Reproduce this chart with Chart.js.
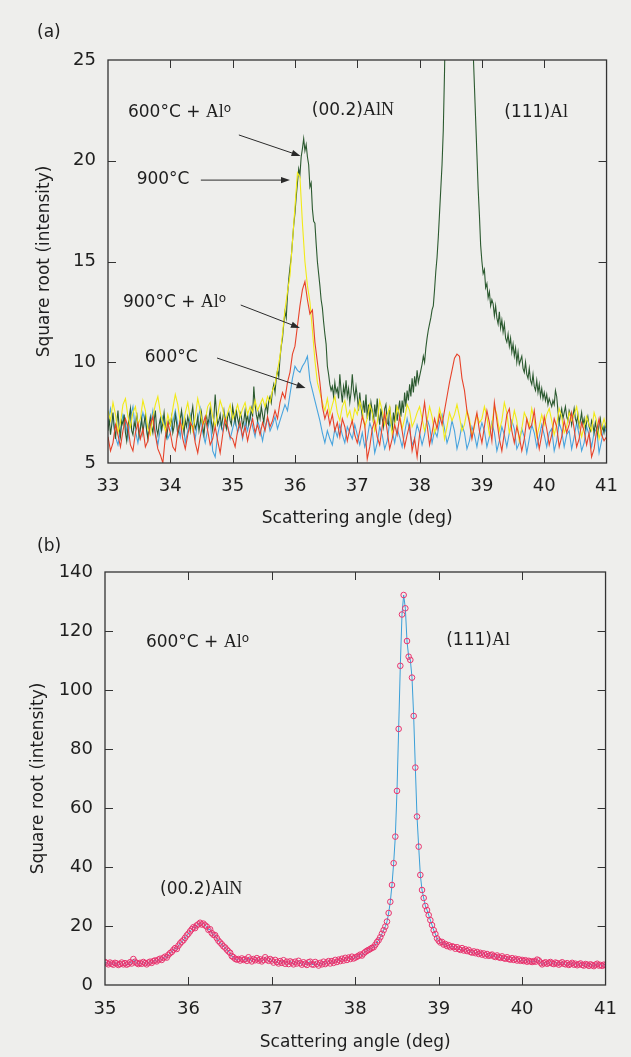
<!DOCTYPE html>
<html><head><meta charset="utf-8">
<script src="https://cdn.jsdelivr.net/npm/chart.js@4.4.1/dist/chart.umd.min.js"></script>
<style>
html,body{margin:0;padding:0;background:#eeeeec;}
body{width:631px;height:1057px;position:relative;overflow:hidden;}
canvas{position:absolute;left:0;}
#ca{top:0}
#cb{top:530px}
</style></head><body>
<canvas id="ca" width="631" height="535"></canvas>
<canvas id="cb" width="631" height="527"></canvas>
<script>
// ---------- data ----------
// scan grid (deg)
const scanStart = 33;
const fineStep = 0.02;   // step of the 600°C + Al° scan
const coarseStep = 0.04; // step of the other three scans
const zoomStart = 35;    // panel (b) starts at 35°

// 600°C + Al°  (sqrt intensity), 33.00 … 41.00 every 0.02°
const sqrt600Al = [
  // 33.00–33.98
  6.6, 7.2, 6.4, 6.9, 7.5, 6.8, 6.2, 7.0, 7.6, 6.7,
  6.3, 7.1, 6.9, 7.4, 6.5, 6.1, 6.8, 7.3, 7.7, 6.6,
  6.4, 7.0, 6.8, 7.5, 6.9, 6.3, 6.7, 7.2, 6.5, 7.0,
  7.4, 6.6, 6.2, 6.9, 7.3, 6.8, 6.5, 7.1, 7.6, 6.7,
  6.4, 6.9, 7.2, 6.6, 7.0, 7.5, 6.8, 6.3, 6.7, 7.1,
  // 34.00–34.98
  6.9, 7.3, 6.5, 6.8, 7.4, 7.0, 6.4, 6.7, 7.2, 7.6,
  6.9, 6.5, 7.1, 6.8, 7.3, 7.0, 6.6, 7.4, 7.8, 7.1,
  6.7, 6.9, 7.3, 6.6, 7.0, 7.5, 6.8, 6.4, 7.1, 7.4,
  6.9, 7.2, 7.7, 7.0, 6.6, 7.3, 8.4, 7.5, 6.9, 7.1,
  7.4, 6.8, 7.2, 7.6, 7.0, 6.7, 7.3, 7.5, 7.1, 6.9,
  // 35.00–35.98
  7.8, 7.4, 7.0, 7.6, 7.2, 6.9, 7.5, 7.3, 6.8, 7.1,
  7.6, 7.0, 7.4, 6.9, 7.2, 7.7, 7.3, 8.8, 7.9, 7.4,
  7.1, 7.5, 7.2, 7.8, 7.4, 7.0, 7.6, 7.9, 7.5, 8.1,
  8.3, 8.0, 8.6, 8.9, 8.5, 9.2, 9.6, 9.3, 10.2, 10.8,
  11.2, 11.9, 12.5, 12.2, 13.3, 14.1, 14.7, 15.2, 16.0, 16.8,
  // 36.00–36.98
  17.4, 18.2, 18.9, 19.6, 19.3, 20.2, 20.6, 21.1, 20.5, 20.8,
  20.2, 19.8, 18.7, 18.9, 17.6, 17.0, 16.9, 15.9, 15.0, 14.4,
  13.8, 13.1, 12.7, 12.0, 11.4, 10.9, 9.8, 9.4, 8.9, 8.6,
  8.8, 8.3, 9.0, 8.5, 8.7, 8.2, 9.4, 8.6, 8.0, 8.8,
  8.4, 9.1, 8.3, 8.7, 8.0, 8.5, 9.4, 8.6, 8.2, 8.8,
  // 37.00–37.98
  8.3, 7.6, 8.5, 7.8, 7.3, 8.1, 7.5, 8.4, 7.2, 7.9,
  7.1, 8.0, 7.6, 7.0, 7.9, 7.3, 8.2, 7.4, 6.9, 7.7,
  7.2, 6.8, 7.7, 7.9, 7.0, 6.9, 7.8, 7.2, 6.6, 7.5,
  7.0, 7.9, 7.1, 7.6, 8.1, 7.3, 8.1, 7.5, 8.5, 7.8,
  8.6, 8.1, 8.9, 8.3, 9.2, 8.5, 9.3, 8.8, 9.6, 9.0,
  // 38.00–38.98
  9.3, 9.6, 9.9, 10.3, 10.0, 10.7, 11.2, 11.6, 11.9, 12.2,
  12.6, 12.8, 13.6, 14.5, 15.2, 16.2, 17.4, 18.6, 19.8, 21.5,
  24.4, 28.2, 33.9, 41.3, 50.3, 65.8, 86.8, 108.2, 125.6, 132.2,
  127.7, 116.6, 111.3, 110.2, 104.2, 91.2, 73.7, 57.1, 46.9, 37.3,
  32.2, 29.5, 26.8, 25.4, 23.7, 22.0, 20.3, 18.6, 17.3, 15.8,
  // 39.00–39.98
  15.0, 14.4, 14.6, 13.7, 13.9, 13.2, 13.5, 12.8, 13.1, 12.9,
  12.3, 12.8, 12.2, 11.9, 12.5, 11.7, 12.1, 11.5, 11.9, 11.2,
  11.0, 11.4, 10.8, 11.2, 10.5, 10.9, 10.3, 10.7, 10.0, 10.5,
  9.9, 10.1, 10.3, 9.7, 9.5, 10.0, 9.4, 9.2, 9.7, 9.1,
  8.9, 9.4, 8.8, 8.6, 9.1, 8.5, 8.9, 8.3, 8.7, 8.2,
  // 40.00–41.00
  8.5, 8.1, 8.4, 7.9, 8.2, 8.0, 7.8, 8.1, 7.9, 8.6,
  8.3, 7.6, 7.0, 7.4, 7.7, 7.2, 7.5, 7.8, 7.3, 7.1,
  7.6, 7.4, 6.9, 7.3, 7.7, 7.2, 7.0, 7.4, 6.8, 7.1,
  7.5, 6.9, 7.2, 6.7, 7.0, 7.3, 6.8, 6.6, 7.1, 6.9,
  6.5, 7.0, 6.7, 6.4, 6.9, 7.2, 6.6, 6.8, 6.5, 6.9,
  6.7
];

// 900°C  (sqrt intensity), 33.00 … 41.00 every 0.04°
const sqrt900 = [
  7.6, 7.1, 8.0, 7.4, 6.5, 7.0, 7.9, 8.2, 7.3, 6.8, 7.5, 7.8, 6.9, 7.2, 8.1, 7.6, 6.7, 6.4, 7.3, 7.9, 8.3, 7.5, 7.0, 6.6, 7.4,
  6.9, 7.7, 8.4, 7.9, 7.0, 6.7, 7.5, 8.0, 7.2, 6.6, 7.3, 8.2, 7.6, 6.9, 7.1, 7.8, 8.0, 7.3, 6.8, 7.4, 8.1, 7.7, 7.0, 7.5, 7.9,
  7.2, 7.5, 7.9, 7.3, 7.7, 8.0, 7.4, 7.8, 7.5, 8.1, 7.6, 7.9, 8.2, 7.8, 8.3, 8.0, 8.6, 8.9, 9.6, 10.3, 11.4, 12.6, 13.5, 14.3, 16.0,
  17.7, 19.4, 19.2, 16.9, 15.0, 13.8, 13.0, 11.6, 10.1, 9.0, 8.5, 8.0, 7.6, 8.2, 7.4, 7.9, 8.3, 7.5, 7.1, 7.8, 8.1, 7.3, 7.6, 7.0, 7.7,
  7.4, 8.1, 7.6, 6.8, 7.2, 7.9, 7.5, 6.6, 7.0, 8.1, 7.6, 6.9, 7.4, 7.8, 6.4, 6.9, 7.8, 7.4, 6.7, 7.2, 7.9, 7.6, 6.8, 7.1, 7.5,
  7.8, 7.2, 6.6, 7.1, 7.8, 7.3, 6.5, 6.9, 7.7, 7.2, 6.2, 6.8, 7.5, 7.1, 7.4, 7.9, 7.3, 6.6, 6.9, 7.6, 7.2, 6.3, 6.8, 7.4, 7.0,
  7.2, 7.8, 7.3, 6.4, 6.9, 7.8, 7.4, 6.6, 7.1, 8.0, 7.5, 6.5, 6.9, 7.6, 7.1, 6.1, 6.7, 7.5, 7.2, 6.8, 7.7, 7.1, 6.3, 6.8, 7.4,
  6.9, 7.4, 7.7, 7.1, 6.4, 6.9, 7.7, 7.3, 6.5, 6.8, 7.5, 7.1, 7.4, 7.8, 7.0, 6.3, 6.8, 7.3, 6.9, 6.6, 7.5, 7.1, 6.2, 6.7, 7.2,
  6.7
];

// 900°C + Al°  (sqrt intensity), 33.00 … 41.00 every 0.04°
const sqrt900Al = [
  6.3, 5.6, 6.0, 6.9, 6.4, 5.8, 6.6, 7.2, 6.8, 5.9, 5.6, 6.5, 7.0, 6.2, 6.7, 5.8, 6.1, 6.9, 7.3, 6.4, 5.7, 5.4, 5.0, 6.3, 7.0,
  6.5, 5.8, 5.6, 6.6, 7.1, 6.2, 5.7, 6.4, 7.0, 6.8, 6.0, 5.5, 6.3, 6.9, 7.3, 6.6, 5.9, 6.2, 6.8, 6.1, 5.5, 6.4, 7.2, 6.8, 6.3,
  6.2, 5.8, 6.6, 7.0, 6.3, 6.8, 6.1, 6.7, 7.2, 6.5, 6.9, 6.4, 7.0, 6.6, 7.3, 6.8, 7.1, 7.6, 7.2, 8.0, 8.5, 8.2, 9.0, 9.5, 10.4,
  10.8, 11.8, 12.8, 13.6, 14.0, 13.1, 12.4, 12.6, 11.0, 10.0, 9.0, 7.8, 7.2, 7.6, 6.9, 7.4, 6.6, 7.0, 6.3, 7.2, 6.8, 6.1, 6.7, 7.1, 6.4,
  6.0, 6.6, 7.3, 6.9, 5.2, 5.8, 6.7, 7.1, 6.3, 5.9, 6.8, 7.5, 6.6, 5.7, 6.2, 6.9, 6.4, 7.3, 6.6, 5.8, 6.4, 6.9, 5.6, 6.2, 5.3,
  6.4, 7.1, 8.0, 6.9, 5.9, 6.5, 7.2, 6.7, 7.4, 6.9, 7.6, 8.3, 9.0, 9.6, 10.2, 10.4, 10.3, 9.2, 8.6, 7.6, 7.0, 6.2, 6.9, 7.5, 6.6,
  6.0, 6.8, 7.6, 7.0, 6.1, 8.0, 7.1, 6.2, 5.6, 6.5, 7.4, 7.7, 6.6, 6.0, 6.8, 6.3, 5.6, 6.2, 7.2, 6.7, 6.9, 7.6, 6.5, 5.7, 6.4,
  7.3, 6.7, 5.9, 6.4, 7.2, 6.8, 5.8, 6.3, 7.1, 6.5, 6.9, 7.5, 6.7, 5.8, 6.2, 7.0, 6.6, 5.9, 6.5, 5.3, 5.7, 6.6, 7.2, 6.4, 6.1,
  6.3
];

// 600°C  (sqrt intensity), 33.00 … 41.00 every 0.04°
const sqrt600 = [
  6.9, 7.7, 7.1, 6.3, 5.9, 6.6, 7.4, 7.0, 6.2, 7.3, 7.8, 6.6, 6.0, 6.8, 7.5, 7.0, 6.3, 6.9, 7.6, 6.5, 5.9, 6.7, 7.3, 6.9, 6.2,
  6.5, 7.0, 7.6, 6.9, 6.3, 7.3, 6.0, 6.6, 7.4, 6.9, 6.2, 7.1, 7.7, 6.5, 6.0, 6.7, 7.2, 5.6, 5.3, 6.4, 7.0, 6.6, 7.3, 6.8, 6.2,
  6.7, 7.2, 6.5, 6.9, 6.2, 7.0, 6.6, 7.4, 6.8, 6.3, 7.1, 6.7, 6.1, 6.8, 7.2, 6.6, 6.9, 7.3, 6.7, 7.1, 7.5, 7.9, 7.6, 8.4, 9.2,
  9.8, 9.6, 9.5, 9.8, 10.0, 10.3, 9.1, 8.6, 8.1, 7.6, 7.1, 6.5, 6.0, 6.6, 6.2, 5.9, 6.7, 6.3, 6.9, 6.4, 6.0, 6.8, 6.5, 6.2, 6.9,
  6.4, 5.9, 6.5, 5.8, 6.2, 7.0, 6.6, 5.5, 6.0, 6.8, 6.4, 5.7, 6.1, 7.0, 6.6, 6.0, 6.7, 6.3, 5.8, 6.5, 7.2, 6.6, 5.9, 6.2, 6.9,
  6.5, 5.9, 6.4, 7.2, 6.8, 6.0, 6.6, 6.3, 7.0, 7.4, 6.7, 6.0, 6.4, 7.1, 6.6, 5.7, 6.2, 6.9, 6.5, 5.7, 6.1, 6.8, 6.4, 5.8, 6.5,
  7.0, 6.6, 5.8, 6.3, 7.0, 6.5, 5.6, 6.1, 6.8, 6.4, 5.8, 6.5, 7.1, 6.7, 5.7, 6.0, 6.7, 6.3, 5.5, 6.2, 6.9, 6.5, 5.8, 6.3, 6.9,
  6.4, 5.8, 6.5, 6.7, 5.6, 6.1, 7.0, 6.6, 5.8, 6.4, 6.6, 5.7, 6.3, 7.0, 6.4, 5.6, 6.0, 6.8, 6.4, 5.8, 6.5, 6.7, 5.5, 6.1, 6.8,
  6.5
];

// axes
const xRangeA = [33, 41], yRangeA = [5, 25], yStepA = 5;
const xRangeB = [35, 41], yRangeB = [0, 140], yStepB = 20;

// labels
const seriesNames = ['900°C + Al°', '600°C + Al°', '900°C', '600°C'];
const xTitle = 'Scattering angle (deg)';
const yTitle = 'Square root (intensity)';

// annotations (data coordinates)
const notesA = [
  {x: 33.32, y: 22.17, parts: [['600°C + ', 's'], ['Al', 'r'], ['o', 'sup']]},
  {x: 33.46, y: 18.85, parts: [['900°C', 's']]},
  {x: 33.24, y: 12.74, parts: [['900°C + ', 's'], ['Al', 'r'], ['o', 'sup']]},
  {x: 33.59, y: 10.01, parts: [['600°C', 's']]},
  {x: 36.27, y: 22.27, parts: [['(00.2)', 's'], ['AlN', 'r']]},
  {x: 39.36, y: 22.17, parts: [['(111)', 's'], ['Al', 'r']]}
];
const arrowsA = [
  {from: [35.10, 21.28], to: [36.09, 20.24]},
  {from: [34.49, 19.04], to: [35.92, 19.04]},
  {from: [35.13, 12.84], to: [36.08, 11.70]},
  {from: [34.75, 10.21], to: [36.17, 8.72]}
];
const notesB = [
  {x: 35.49, y: 114.6, parts: [['600°C + ', 's'], ['Al', 'r'], ['o', 'sup']]},
  {x: 39.09, y: 115.3, parts: [['(111)', 's'], ['Al', 'r']]},
  {x: 35.66, y: 30.8, parts: [['(00.2)', 's'], ['AlN', 'r']]}
];

// ---------- helpers ----------
function toPoints(values, start, step) {
  return values.map((v, i) => ({x: Math.round((start + i * step) * 100) / 100, y: v}));
}
const SANS = '"DejaVu Sans", sans-serif';
const SERIF = '"Liberation Serif", "DejaVu Serif", serif';
const INK = '#1e1e1e';
const FRAME = '#333333';
const fontOf = {s: '17px ' + SANS, r: '18px ' + SERIF, sup: '12px ' + SANS};

function drawRich(ctx, x, y, parts) {
  let cx = x;
  for (const [t, k] of parts) {
    ctx.font = fontOf[k];
    ctx.fillText(t, cx, k === 'sup' ? y - 5 : y);
    cx += ctx.measureText(t).width;
  }
}

function makeAnnotations(notes, arrows, panelLabel, panelY) {
  return {
    id: 'notes',
    afterDraw(chart) {
      const {ctx, scales: {x, y}} = chart;
      ctx.save();
      ctx.fillStyle = INK;
      ctx.textBaseline = 'alphabetic';
      ctx.textAlign = 'left';
      for (const n of notes) drawRich(ctx, x.getPixelForValue(n.x), y.getPixelForValue(n.y), n.parts);
      ctx.font = '17px ' + SANS;
      ctx.textBaseline = 'middle';
      ctx.fillText(panelLabel, 37, panelY);
      ctx.strokeStyle = '#2a2a2a';
      ctx.lineWidth = 1;
      for (const a of arrows) {
        const x1 = x.getPixelForValue(a.from[0]), y1 = y.getPixelForValue(a.from[1]);
        const x2 = x.getPixelForValue(a.to[0]), y2 = y.getPixelForValue(a.to[1]);
        const ang = Math.atan2(y2 - y1, x2 - x1);
        const L = 9, W = 3.2;
        ctx.beginPath();
        ctx.moveTo(x1, y1);
        ctx.lineTo(x2 - Math.cos(ang) * L * 0.8, y2 - Math.sin(ang) * L * 0.8);
        ctx.stroke();
        ctx.beginPath();
        ctx.moveTo(x2, y2);
        ctx.lineTo(x2 - Math.cos(ang) * L + Math.sin(ang) * W, y2 - Math.sin(ang) * L - Math.cos(ang) * W);
        ctx.lineTo(x2 - Math.cos(ang) * L - Math.sin(ang) * W, y2 - Math.sin(ang) * L + Math.cos(ang) * W);
        ctx.closePath();
        ctx.fillStyle = '#2a2a2a';
        ctx.fill();
      }
      ctx.restore();
    }
  };
}

const frameTicks = {
  id: 'frameTicks',
  afterDatasetsDraw(chart) {
    const {ctx, chartArea: a, scales: {x, y}} = chart;
    const L = 8;
    ctx.save();
    ctx.strokeStyle = FRAME;
    ctx.lineWidth = 1;
    ctx.beginPath();
    for (const t of x.ticks) {
      const px = Math.round(x.getPixelForValue(t.value)) + 0.5;
      if (px <= a.left + 2 || px >= a.right - 2) continue;
      ctx.moveTo(px, a.bottom); ctx.lineTo(px, a.bottom - L);
      ctx.moveTo(px, a.top); ctx.lineTo(px, a.top + L);
    }
    for (const t of y.ticks) {
      const py = Math.round(y.getPixelForValue(t.value)) + 0.5;
      if (py <= a.top + 2 || py >= a.bottom - 2) continue;
      ctx.moveTo(a.left, py); ctx.lineTo(a.left + L, py);
      ctx.moveTo(a.right, py); ctx.lineTo(a.right - L, py);
    }
    ctx.stroke();
    ctx.lineWidth = 1.3;
    ctx.strokeRect(a.left, a.top, a.right - a.left, a.bottom - a.top);
    ctx.restore();
  }
};

function axes(xr, yr, ystep, sizes) {
  return {
    x: {
      type: 'linear', min: xr[0], max: xr[1],
      afterFit(s) { s.height = sizes.xh; },
      grid: {display: false, drawTicks: false}, border: {display: false},
      ticks: {stepSize: 1, autoSkip: false, maxRotation: 0, padding: sizes.xpad,
        color: INK, font: {family: SANS, size: 18}},
      title: {display: true, text: xTitle, color: INK, font: {family: SANS, size: 17},
        padding: {top: 0, bottom: sizes.xtp}}
    },
    y: {
      type: 'linear', min: yr[0], max: yr[1],
      afterFit(s) { s.width = sizes.yw; },
      grid: {display: false, drawTicks: false}, border: {display: false},
      ticks: {stepSize: ystep, padding: 12, color: INK, font: {family: SANS, size: 18}},
      title: {display: true, text: yTitle, color: INK, font: {family: SANS, size: 17},
        padding: {top: sizes.ytp, bottom: 0}}
    }
  };
}

const common = {
  responsive: false, animation: false, devicePixelRatio: 1,
  plugins: {legend: {display: false}, tooltip: {enabled: false}},
  elements: {point: {radius: 0}, line: {tension: 0}}
};

// ---------- panel (a) ----------
const dsA = [
  {label: seriesNames[0], data: toPoints(sqrt900Al, scanStart, coarseStep), borderColor: '#e7432a', borderWidth: 1.1},
  {label: seriesNames[2], data: toPoints(sqrt900, scanStart, coarseStep), borderColor: '#f2ea16', borderWidth: 1.1},
  {label: seriesNames[1], data: toPoints(sqrt600Al, scanStart, fineStep), borderColor: '#2c5a30', borderWidth: 1.1},
  {label: seriesNames[3], data: toPoints(sqrt600, scanStart, coarseStep), borderColor: '#48a4de', borderWidth: 1.1}
];
new Chart(document.getElementById('ca'), {
  type: 'line',
  data: {datasets: dsA},
  options: Object.assign({}, common, {
    layout: {padding: {top: 60, right: 24, bottom: 0, left: 0}},
    scales: axes(xRangeA, yRangeA, yStepA, {xh: 72, yw: 108, xpad: 13, xtp: 6, ytp: 34})
  }),
  plugins: [frameTicks, makeAnnotations(notesA, arrowsA, '(a)', 33)]
});

// ---------- panel (b) ----------
const bPoints = toPoints(sqrt600Al, scanStart, fineStep).filter(p => p.x >= zoomStart);
new Chart(document.getElementById('cb'), {
  type: 'line',
  data: {datasets: [{
    label: seriesNames[1], data: bPoints,
    borderColor: '#3a9fd8', borderWidth: 1,
    pointRadius: 2.8, pointBorderWidth: 1, pointBorderColor: '#e8336e',
    pointBackgroundColor: 'rgba(0,0,0,0)'
  }]},
  options: Object.assign({}, common, {
    layout: {padding: {top: 42, right: 24, bottom: 0, left: 0}},
    scales: axes(xRangeB, yRangeB, yStepB, {xh: 72, yw: 105, xpad: 14, xtp: 4, ytp: 28})
  }),
  plugins: [frameTicks, makeAnnotations(notesB, [], '(b)', 17)]
});
</script>
</body></html>
